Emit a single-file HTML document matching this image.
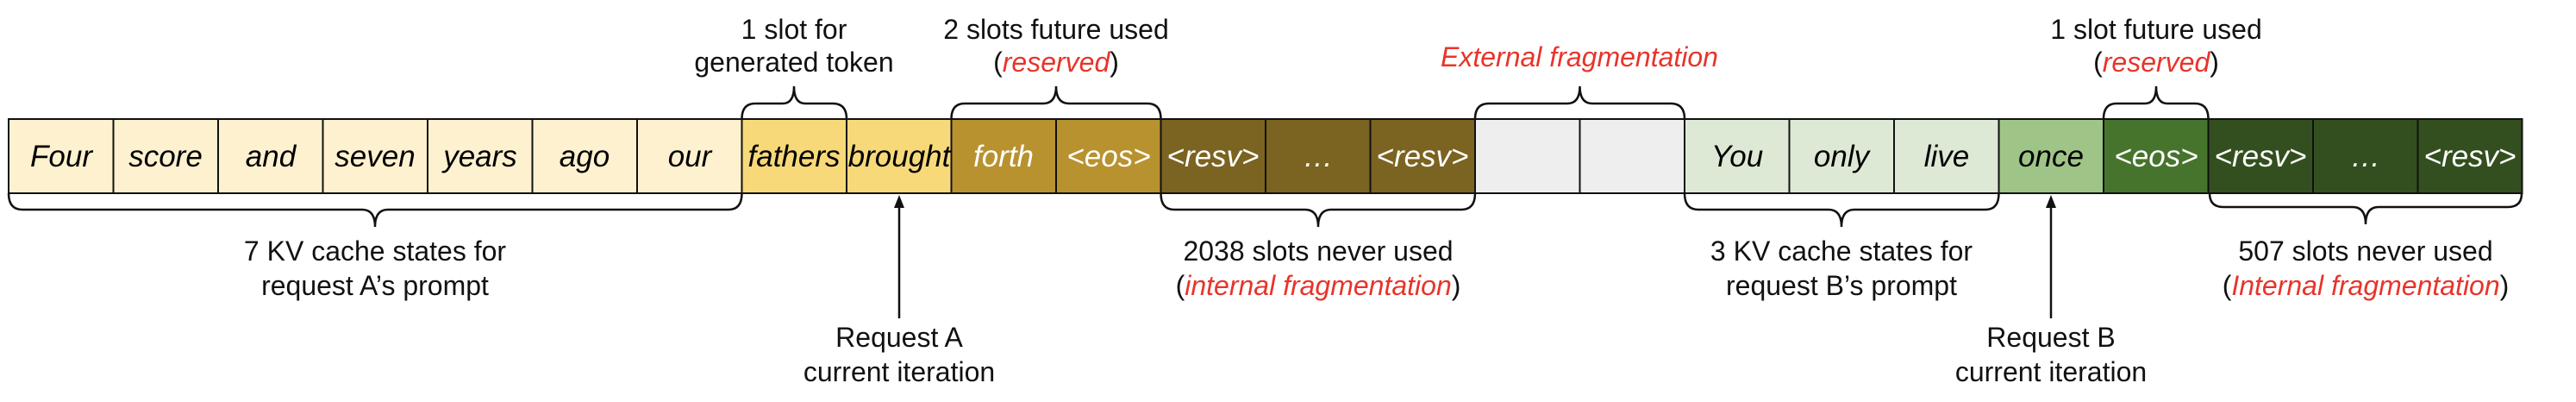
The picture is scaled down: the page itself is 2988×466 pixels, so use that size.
<!DOCTYPE html>
<html><head><meta charset="utf-8"><style>
html,body{margin:0;padding:0;background:#fff;}
svg{display:block;}
text{font-family:"Liberation Sans",Arial,sans-serif;}
</style></head><body>
<svg width="2988" height="466" viewBox="0 0 2988 466" xmlns="http://www.w3.org/2000/svg">
<g stroke="#111" stroke-width="2">
<rect x="10" y="138" width="850.5" height="86" fill="#FDF1CF"/>
<rect x="860.5" y="138" width="243" height="86" fill="#F7D97A"/>
<rect x="1103.5" y="138" width="243" height="86" fill="#B8922F"/>
<rect x="1346.5" y="138" width="364.5" height="86" fill="#7B6321"/>
<rect x="1711" y="138" width="243" height="86" fill="#EEEEEE"/>
<rect x="1954" y="138" width="364.5" height="86" fill="#DDE9D5"/>
<rect x="2318.5" y="138" width="121.5" height="86" fill="#9FC487"/>
<rect x="2440" y="138" width="121.5" height="86" fill="#47742D"/>
<rect x="2561.5" y="138" width="364" height="86" fill="#344F1F"/>
</g>
<g stroke="#111" stroke-width="2">
<line x1="131.5" y1="138" x2="131.5" y2="224"/><line x1="253" y1="138" x2="253" y2="224"/>
<line x1="374.5" y1="138" x2="374.5" y2="224"/><line x1="496" y1="138" x2="496" y2="224"/>
<line x1="617.5" y1="138" x2="617.5" y2="224"/><line x1="739" y1="138" x2="739" y2="224"/>
<line x1="982" y1="138" x2="982" y2="224"/><line x1="1225" y1="138" x2="1225" y2="224"/>
<line x1="1468" y1="138" x2="1468" y2="224"/><line x1="1589.5" y1="138" x2="1589.5" y2="224"/>
<line x1="1832.5" y1="138" x2="1832.5" y2="224"/><line x1="2075.5" y1="138" x2="2075.5" y2="224"/>
<line x1="2197" y1="138" x2="2197" y2="224"/><line x1="2683" y1="138" x2="2683" y2="224"/>
<line x1="2804.5" y1="138" x2="2804.5" y2="224"/>
</g>
<g font-size="35" font-style="italic" text-anchor="middle">
<text x="71" y="193">Four</text><text x="192" y="193">score</text><text x="314" y="193">and</text>
<text x="435" y="193">seven</text><text x="557" y="193">years</text><text x="678" y="193">ago</text>
<text x="800" y="193">our</text><text x="921" y="193">fathers</text><text x="1043" y="193">brought</text>
<g fill="#fff"><text x="1164" y="193">forth</text><text x="1286" y="193">&lt;eos&gt;</text>
<text x="1407" y="193">&lt;resv&gt;</text><text x="1529" y="193">…</text><text x="1650" y="193">&lt;resv&gt;</text></g>
<text x="2015" y="193">You</text><text x="2136" y="193">only</text><text x="2258" y="193">live</text>
<text x="2379" y="193">once</text>
<g fill="#fff"><text x="2501" y="193">&lt;eos&gt;</text><text x="2622" y="193">&lt;resv&gt;</text>
<text x="2744" y="193">…</text><text x="2865" y="193">&lt;resv&gt;</text></g>
</g>
<g fill="none" stroke="#111" stroke-width="2.5">
<path d="M860.5 138 Q860.5 120 876 120 L908 120 Q921 120 921 100 Q921 120 934 120 L966 120 Q982 120 982 138"/>
<path d="M1103.5 138 Q1103.5 120 1119 120 L1210 120 Q1225 120 1225 100 Q1225 120 1240 120 L1331 120 Q1346.5 120 1346.5 138"/>
<path d="M1711 138 Q1711 120 1727 120 L1818 120 Q1832.5 120 1832.5 100 Q1832.5 120 1847 120 L1938 120 Q1954 120 1954 138"/>
<path d="M2440 138 Q2440 120 2455 120 L2488 120 Q2501 120 2501 100 Q2501 120 2514 120 L2546 120 Q2561.5 120 2561.5 138"/>
<path d="M10 224 Q10 243 26 243 L420 243 Q435 243 435 263 Q435 243 450 243 L845 243 Q860.5 243 860.5 224"/>
<path d="M1346.5 224 Q1346.5 243 1362 243 L1514 243 Q1529 243 1529 263 Q1529 243 1544 243 L1695 243 Q1711 243 1711 224"/>
<path d="M1954 224 Q1954 243 1970 243 L2121 243 Q2136 243 2136 263 Q2136 243 2151 243 L2303 243 Q2318.5 243 2318.5 224"/>
<path d="M2563 224 Q2563 240 2579 240 L2729 240 Q2744 240 2744 260 Q2744 240 2759 240 L2909 240 Q2925 240 2925 224"/>
<line x1="1043" y1="369" x2="1043" y2="236"/>
<line x1="2379" y1="369" x2="2379" y2="236"/>
</g>
<path d="M1043 226 L1037 241 L1049 241 Z" fill="#111"/>
<path d="M2379 226 L2373 241 L2385 241 Z" fill="#111"/>
<g font-size="32" text-anchor="middle" fill="#111">
<text x="921" y="45">1 slot for</text><text x="921" y="83">generated token</text>
<text x="1225" y="45">2 slots future used</text>
<text x="1225" y="83">(<tspan fill="#E8342A" font-style="italic">reserved</tspan>)</text>
<text x="1832" y="77" fill="#E8342A" font-style="italic">External fragmentation</text>
<text x="2501" y="45">1 slot future used</text>
<text x="2501" y="83">(<tspan fill="#E8342A" font-style="italic">reserved</tspan>)</text>
<text x="435" y="302">7 KV cache states for</text><text x="435" y="342">request A’s prompt</text>
<text x="1529" y="302">2038 slots never used</text>
<text x="1529" y="342">(<tspan fill="#E8342A" font-style="italic">internal fragmentation</tspan>)</text>
<text x="2136" y="302">3 KV cache states for</text><text x="2136" y="342">request B’s prompt</text>
<text x="2744" y="302">507 slots never used</text>
<text x="2744" y="342">(<tspan fill="#E8342A" font-style="italic">Internal fragmentation</tspan>)</text>
<text x="1043" y="402">Request A</text><text x="1043" y="442">current iteration</text>
<text x="2379" y="402">Request B</text><text x="2379" y="442">current iteration</text>
</g>
</svg>
</body></html>
